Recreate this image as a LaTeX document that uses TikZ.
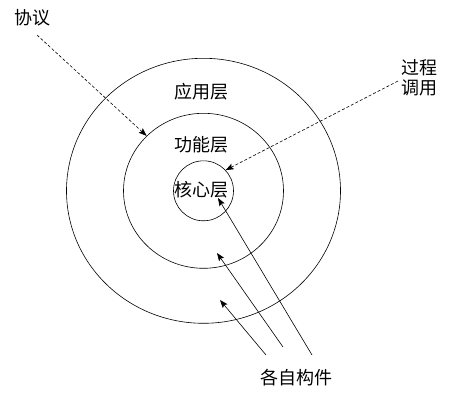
\documentclass[tikz,border=0pt]{standalone}
\usepackage{fontspec}
\usepackage{tikz}
\usetikzlibrary{shapes.geometric, arrows.meta, positioning}
\newfontfamily\cjk{Noto Sans CJK SC}

\begin{document}
\begin{tikzpicture}[
    x=1pt, y=-1pt,
    layer/.style={ellipse, draw=black, line width=0.6pt, inner sep=0pt},
    lbl/.style={font=\cjk\fontsize{18}{20}\selectfont, inner sep=1pt},
    call/.style={-{Stealth[length=8pt, width=6pt, inset=1.5pt]}, line width=0.6pt, dash pattern=on 3pt off 2pt},
    comp/.style={-{Stealth[length=8pt, width=6pt, inset=1.5pt]}, line width=0.6pt}
]
\useasboundingbox (0,0) rectangle (459,402);

% Layers
\node[layer, minimum width=274pt, minimum height=265pt] (outer) at (203.5,190.8) {};
\node[layer, minimum width=160pt, minimum height=155pt] (mid) at (203.5,190.8) {};
\node[layer, minimum width=60pt, minimum height=60pt] (core) at (203.5,190.8) {};

% Layer names
\node[lbl] (app) at (202,92) {应用层};
\node[lbl] (func) at (202,145) {功能层};
\node[lbl] (kern) at (202,190) {核心层};

% Outside labels
\node[lbl] (proto) at (33,18) {协议};
\node[lbl, align=center] (proc) at (419,78) {过程\\调用};
\node[lbl] (parts) at (296,378) {各自构件};

% End points
\coordinate (p1) at (37,35);
\coordinate (p2) at (398,81);
\coordinate (s1) at (312,355);
\coordinate (s2) at (283,347);
\coordinate (s3) at (266,355);
\coordinate (t1) at (218,198);
\coordinate (t2) at (217,253);
\coordinate (t3) at (220,300);

% Calls
\draw[call] (p1) -- (mid.136);
\draw[call] (p2) -- (core.43);

% Components
\draw[comp] (s1) -- (t1);
\draw[comp] (s2) -- (t2);
\draw[comp] (s3) -- (t3);

\end{tikzpicture}
\end{document}
